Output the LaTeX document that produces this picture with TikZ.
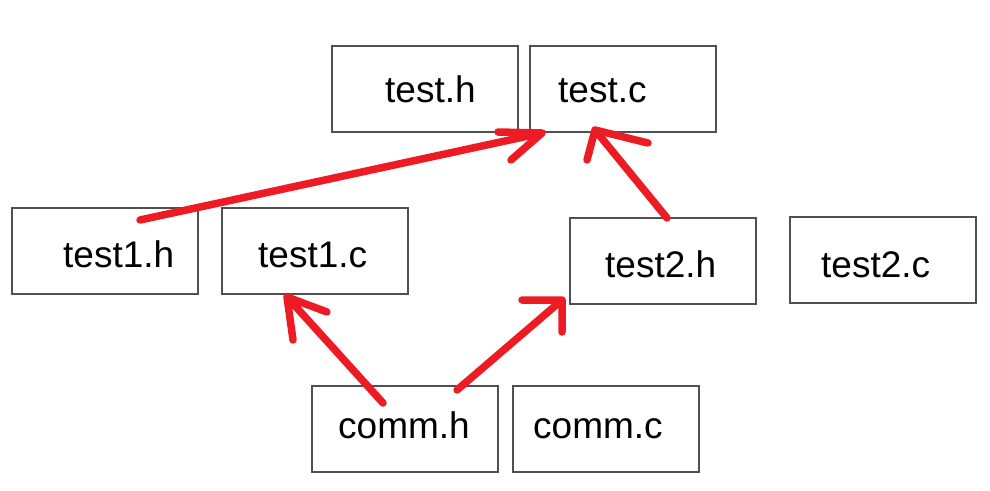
\documentclass[tikz,border=0pt]{standalone}
\usepackage{fontspec}
\setmainfont{Liberation Sans}
\definecolor{boxgray}{HTML}{505050}
\definecolor{arrred}{HTML}{ED1C24}
\begin{document}
\begin{tikzpicture}[x=1pt,y=-1pt,
  filebox/.style={draw=boxgray,line width=2pt,minimum width=186pt,minimum height=86pt,inner sep=0pt},
  fname/.style={anchor=base west,inner sep=0pt,font=\fontsize{37}{41}\selectfont,text=black},
  redarrow/.style={draw=arrred,line width=7.5pt,line cap=round,line join=round}]
\useasboundingbox (0,0) rectangle (990,490);
% boxes
\node[filebox] (th)  at (425,89) {};
\node[filebox] (tc)  at (623,89) {};
\node[filebox] (t1h) at (105,251) {};
\node[filebox] (t1c) at (315,251) {};
\node[filebox] (t2h) at (662.5,261) {};
\node[filebox] (t2c) at (883,259.5) {};
\node[filebox] (ch)  at (404.5,428.5) {};
\node[filebox] (cc)  at (606,428.5) {};
% labels
\node[fname] (lth)  at (385,102) {test.h};
\node[fname] (ltc)  at (558,102) {test.c};
\node[fname] (lt1h) at (63,267) {test1.h};
\node[fname] (lt1c) at (258,267) {test1.c};
\node[fname] (lt2h) at (605,277) {test2.h};
\node[fname] (lt2c) at (821,277) {test2.c};
\node[fname] (lch)  at (338,438) {comm.h};
\node[fname] (lcc)  at (533,438) {comm.c};
% arrow end points
\coordinate (a1s) at (140,220);
\coordinate (a1t) at (542,133);
\coordinate (a2s) at (667,218);
\coordinate (a2t) at (595,130);
\coordinate (a3s) at (383,403);
\coordinate (a3t) at (287,297);
\coordinate (a4s) at (457,390);
\coordinate (a4t) at (562,300);
% arrows
\draw[redarrow] (a1s) -- (a1t) -- ++(-44,-1) (a1t) -- ++(-31,27);
\draw[redarrow] (a2s) -- (a2t) -- ++(-8,30) (a2t) -- ++(53,13);
\draw[redarrow] (a3s) -- (a3t) -- ++(6,43) (a3t) -- ++(40,15);
\draw[redarrow] (a4s) -- (a4t) -- ++(-40,0) (a4t) -- ++(0,32);
\end{tikzpicture}
\end{document}
